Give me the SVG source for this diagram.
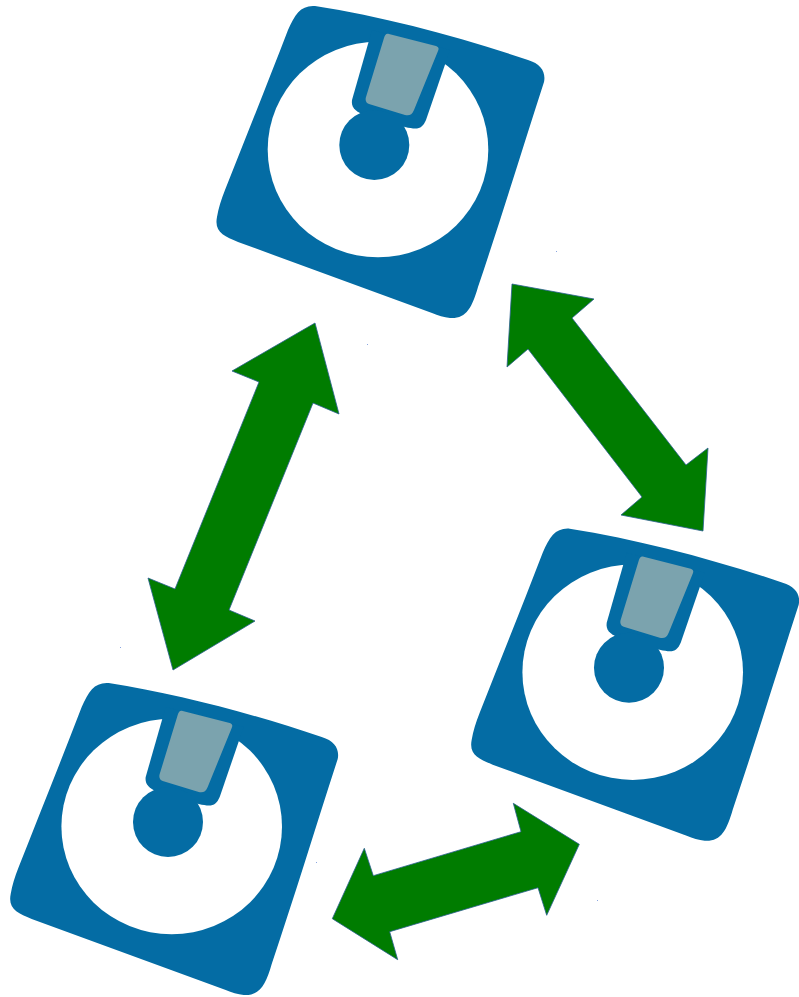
<svg xmlns="http://www.w3.org/2000/svg" width="799" height="997" viewBox="0 0 799 997">
<style>
.body{fill:#046ca4}
.hole{fill:#fff}
.shutter{fill:#7ba3ae}
.arrow{fill:#007c00;stroke:#2a5f8f;stroke-width:.8;stroke-linejoin:miter}
.speck{fill:#8aa6e0}
</style>
<defs>
<g id="disk">
<path class="body" d="M315 6C385 17 460 37 528 60C541 64 546 72 544 82C522 150 500 222 478 287C472 308 466 319 450 318C444 317.600 438 315.200 432 313L238 242C224 236 214 232 217 217C218.500 208 221 200 225 190C246 137 268 82 288 30C295 14 301 5 315 6Z"/>
<ellipse class="hole" cx="378" cy="149.500" rx="110.300" ry="107.700"/>
<path class="body" d="M372 30L352 100C351 107 355 111 362 114L405 127C418 130 422 129 426 120L450 50Z"/>
<circle class="body" cx="374.300" cy="145" r="35"/>
<path class="shutter" d="M389 34L436 46C439 47 439 49 438 51L414 110C412 115 409 116 405 115L369 104C366 103 365 100 366 97L384 38C385 35 386 33 389 34Z"/>
</g>
</defs>
<g id="connectors">
<polygon id="arrow-left" class="arrow" points="315,323 339,414 313,403 229,610 255,621 173,670 148,578 175,589 259,382 232,371"/>
<polygon id="arrow-right" class="arrow" points="512,284 594,299 572,318 686,465 708,448 703,531 621,515 642,497 528,349 507,367"/>
<polygon id="arrow-bottom" class="arrow" points="579.300,844.300 513.300,803.300 521,831.700 373.300,875.700 364.300,848.300 332.300,918.700 397.700,959.700 389.700,931.700 538,887.700 546.700,915.300"/>
</g>
<g id="disk-top"><use href="#disk"/></g>
<g id="disk-right"><use href="#disk" x="254.700" y="522.700"/></g>
<g id="disk-left"><use href="#disk" x="-206.300" y="677"/></g>
<g id="specks">
<rect class="speck" x="367" y="344" width="1" height="1"/>
<rect class="speck" x="556" y="251" width="1" height="1"/>
<rect class="speck" x="120" y="647" width="1" height="1"/>
<rect class="speck" x="316" y="862" width="1" height="1"/>
<rect class="speck" x="597" y="900" width="1" height="1"/>
</g>
</svg>
